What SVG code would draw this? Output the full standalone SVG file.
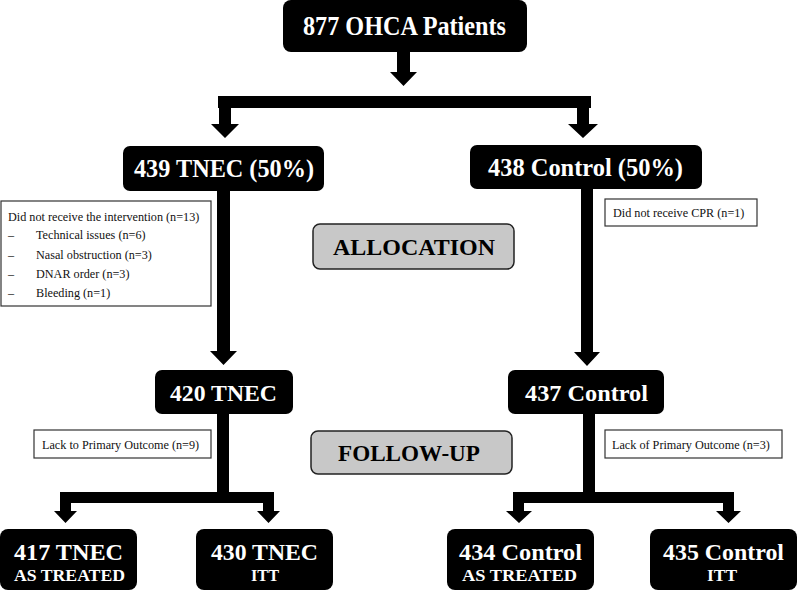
<svg xmlns="http://www.w3.org/2000/svg" width="797" height="591" viewBox="0 0 797 591">
<style>
.node{fill:#000}
.t{font-family:"Liberation Serif","Tinos","Times New Roman","DejaVu Serif",serif;font-weight:bold;fill:#fff;text-anchor:middle}
.big{font-size:27px}
.top2{font-size:26px}
.mid{font-size:24px}
.sub{font-size:17px}
.note{fill:#fff;stroke:#333;stroke-width:1.2}
.nt{font-family:"Liberation Serif","Tinos","Times New Roman","DejaVu Serif",serif;font-size:12.2px;fill:#111}
.phase{fill:#c8c8c8;stroke:#222;stroke-width:1.5}
.pt{font-family:"Liberation Serif","Tinos","Times New Roman","DejaVu Serif",serif;font-weight:bold;font-size:23px;fill:#000;text-anchor:middle}
.c{fill:#000}
</style>
<rect width="797" height="591" fill="#fff"/>
<g id="connectors" class="c">
<path d="M397 52H410V72H417L403.5 86L390 72H397Z"/>
<path d="M218 96H591V108H589V124H598L583 138L568 124H577V108H231V124H239L225 138L211 124H219V108H218Z"/>
<path d="M217 190H230V351H237L223.5 365L210 351H217Z"/>
<path d="M581 188H593V352H600L587 366L574 352H581Z"/>
<path d="M217 414H229V492H274V511H280L268.5 523L257 511H263V503H71V511H77L65.5 523L54 511H60V492H217Z"/>
<path d="M583 414H595V492H734V511H741L728.5 523L716 511H723V503H524V511H532L519 523L506 511H513V492H583Z"/>
</g>
<g id="n877">
<rect class="node" x="283" y="0" width="244" height="52" rx="8"/>
<text class="t big" x="404.5" y="35" textLength="203" lengthAdjust="spacingAndGlyphs">877 OHCA Patients</text>
</g>
<g id="n439">
<rect class="node" x="123" y="146" width="201" height="45" rx="7"/>
<text class="t top2" x="224" y="177" textLength="180" lengthAdjust="spacingAndGlyphs">439 TNEC (50%)</text>
</g>
<g id="n438">
<rect class="node" x="470" y="145" width="232" height="44" rx="7"/>
<text class="t top2" x="585.5" y="176" textLength="195" lengthAdjust="spacingAndGlyphs">438 Control (50%)</text>
</g>
<g id="ex1">
<rect class="note" x="1" y="201" width="210" height="105"/>
<text class="nt" x="8" y="221">Did not receive the intervention (n=13)</text>
<text class="nt" x="8" y="239">–</text><text class="nt" x="36" y="239">Technical issues (n=6)</text>
<text class="nt" x="8" y="259">–</text><text class="nt" x="36" y="259">Nasal obstruction (n=3)</text>
<text class="nt" x="8" y="278">–</text><text class="nt" x="36" y="278">DNAR order (n=3)</text>
<text class="nt" x="8" y="297">–</text><text class="nt" x="36" y="297">Bleeding (n=1)</text>
</g>
<g id="ex2">
<rect class="note" x="605" y="199" width="152" height="27"/>
<text class="nt" x="613" y="217">Did not receive CPR (n=1)</text>
</g>
<g id="allocation">
<rect class="phase" x="313" y="224" width="201" height="45" rx="7"/>
<text class="pt" x="414" y="255" textLength="162" lengthAdjust="spacingAndGlyphs">ALLOCATION</text>
</g>
<g id="n420">
<rect class="node" x="155" y="370" width="138" height="44" rx="7"/>
<text class="t mid" x="223.5" y="401" textLength="107" lengthAdjust="spacingAndGlyphs">420 TNEC</text>
</g>
<g id="n437">
<rect class="node" x="508" y="370" width="156" height="44" rx="7"/>
<text class="t mid" x="586.5" y="401" textLength="123" lengthAdjust="spacingAndGlyphs">437 Control</text>
</g>
<g id="ex3">
<rect class="note" x="34" y="430" width="177" height="28"/>
<text class="nt" x="42" y="449">Lack to Primary Outcome (n=9)</text>
</g>
<g id="ex4">
<rect class="note" x="605" y="430" width="177" height="28"/>
<text class="nt" x="612" y="449">Lack of Primary Outcome (n=3)</text>
</g>
<g id="followup">
<rect class="phase" x="311" y="431" width="201" height="43" rx="7"/>
<text class="pt" x="409" y="461" textLength="142" lengthAdjust="spacingAndGlyphs">FOLLOW-UP</text>
</g>
<g id="n417">
<rect class="node" x="0" y="529" width="137" height="61" rx="8"/>
<text class="t mid" x="68.5" y="560" textLength="109" lengthAdjust="spacingAndGlyphs">417 TNEC</text>
<text class="t sub" x="69.5" y="581" textLength="111" lengthAdjust="spacingAndGlyphs">AS TREATED</text>
</g>
<g id="n430">
<rect class="node" x="196" y="529" width="137" height="61" rx="8"/>
<text class="t mid" x="264.5" y="560" textLength="107" lengthAdjust="spacingAndGlyphs">430 TNEC</text>
<text class="t sub" x="265" y="581" textLength="28" lengthAdjust="spacingAndGlyphs">ITT</text>
</g>
<g id="n434">
<rect class="node" x="447" y="529" width="147" height="61" rx="8"/>
<text class="t mid" x="520.5" y="560" textLength="123" lengthAdjust="spacingAndGlyphs">434 Control</text>
<text class="t sub" x="519.5" y="581" textLength="115" lengthAdjust="spacingAndGlyphs">AS TREATED</text>
</g>
<g id="n435">
<rect class="node" x="650" y="529" width="147" height="61" rx="8"/>
<text class="t mid" x="723.5" y="560" textLength="121" lengthAdjust="spacingAndGlyphs">435 Control</text>
<text class="t sub" x="722" y="581" textLength="30" lengthAdjust="spacingAndGlyphs">ITT</text>
</g>
</svg>
